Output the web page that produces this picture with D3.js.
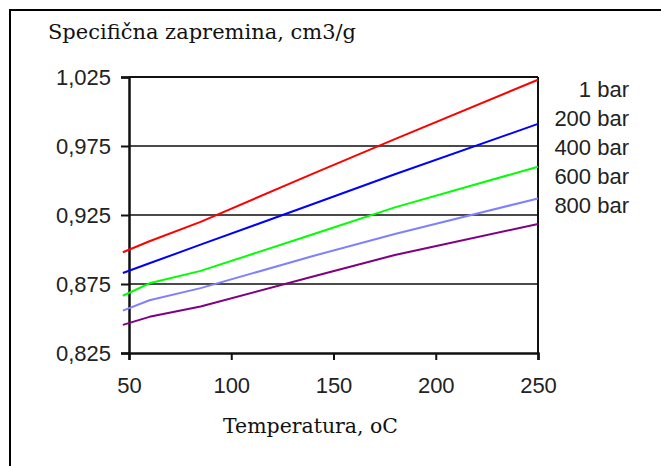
<!DOCTYPE html>
<html>

<head>
  <meta charset="utf-8">
  <title>Specificna zapremina</title>
  <script type="text/javascript" src="https://cdn.jsdelivr.net/npm/d3@7"></script>
  <style type="text/css">
    body { margin: 0; background: #fff; }
  </style>
</head>

<body>
  <script type="text/javascript">

    // Data
    const temperatures = [47, 60, 85, 140, 180, 250];
    const seriesNames = ["1 bar", "200 bar", "400 bar", "600 bar", "800 bar"];
    const bar1   = [0.898, 0.906, 0.920, 0.955, 0.980, 1.023];
    const bar200 = [0.883, 0.890, 0.9035, 0.933, 0.9545, 0.991];
    const bar400 = [0.8665, 0.8755, 0.8845, 0.911, 0.9305, 0.960];
    const bar600 = [0.8557, 0.8632, 0.872, 0.8953, 0.9112, 0.937];
    const bar800 = [0.8454, 0.8512, 0.8587, 0.8804, 0.896, 0.9185];
    const yTicks = [0.825, 0.875, 0.925, 0.975, 1.025];
    const xTicks = [50, 100, 150, 200, 250];
    const colors = ["#ff0000", "#0000ff", "#00ff00", "#8080ff", "#800080"];

    const series = [bar1, bar200, bar400, bar600, bar800];

    // Width and height
    const w = 661;
    const h = 466;

    const svg = d3.select("body")
      .append("svg")
      .attr("width", w)
      .attr("height", h);

    // frame (left and top only)
    svg.append("path")
      .attr("d", "M10,466 L10,10 L661,10")
      .attr("fill", "none")
      .attr("stroke", "#000")
      .attr("stroke-width", 2);

    const x = d3.scaleLinear().domain([50, 250]).range([129, 538]);
    const y = d3.scaleLinear().domain([0.825, 1.025]).range([353, 77]);

    // horizontal grid lines
    svg.selectAll("line.grid")
      .data(yTicks.slice(1))
      .enter()
      .append("line")
      .attr("class", "grid")
      .attr("x1", x(50))
      .attr("x2", x(250))
      .attr("y1", d => y(d))
      .attr("y2", d => y(d))
      .attr("stroke", d => d === 1.025 ? "#111" : "#4a4a4a")
      .attr("stroke-width", 2);

    // right border
    svg.append("line")
      .attr("x1", x(250)).attr("x2", x(250))
      .attr("y1", y(1.025)).attr("y2", y(0.825))
      .attr("stroke", "#111")
      .attr("stroke-width", 2);

    const fmt = d => d3.format(".3f")(d).replace(".", ",");

    const yAxis = svg.append("g")
      .attr("transform", "translate(" + x(50) + ",0)")
      .call(d3.axisLeft(y).tickValues(yTicks).tickFormat(fmt).tickSize(8).tickPadding(10));

    const xAxis = svg.append("g")
      .attr("transform", "translate(0," + y(0.825) + ")")
      .call(d3.axisBottom(x).tickValues(xTicks).tickSize(7).tickPadding(17));

    [yAxis, xAxis].forEach(function (g) {
      g.select(".domain").attr("stroke", "#111").attr("stroke-width", 2.5);
      g.selectAll(".tick line").attr("stroke", "#111").attr("stroke-width", 2);
      g.selectAll("text")
        .attr("font-family", "Liberation Sans, Arial, sans-serif")
        .attr("font-size", 22)
        .attr("fill", "#222");
    });

    // series lines
    const line = d3.line()
      .x((d, i) => x(temperatures[i]))
      .y(d => y(d));

    svg.selectAll("path.series")
      .data(series)
      .enter()
      .append("path")
      .attr("class", "series")
      .attr("d", line)
      .attr("fill", "none")
      .attr("stroke", (d, i) => colors[i])
      .attr("stroke-width", 2)
      .attr("stroke-linejoin", "round");

    // legend labels
    svg.selectAll("text.legend")
      .data(seriesNames)
      .enter()
      .append("text")
      .attr("class", "legend")
      .attr("x", 629)
      .attr("y", (d, i) => 97 + i * 29)
      .attr("text-anchor", "end")
      .attr("font-family", "Liberation Sans, Arial, sans-serif")
      .attr("font-size", 22)
      .attr("fill", "#222")
      .text(d => d);

    // titles
    svg.append("text")
      .attr("x", 48)
      .attr("y", 39)
      .attr("font-family", "DejaVu Serif, serif")
      .attr("font-size", 21)
      .attr("textLength", 308)
      .attr("lengthAdjust", "spacingAndGlyphs")
      .attr("fill", "#111")
      .text("Specifična zapremina, cm3/g");

    svg.append("text")
      .attr("x", 223)
      .attr("y", 433)
      .attr("font-family", "DejaVu Serif, serif")
      .attr("font-size", 21)
      .attr("textLength", 175)
      .attr("lengthAdjust", "spacingAndGlyphs")
      .attr("fill", "#111")
      .text("Temperatura, oC");

  </script>
</body>

</html>
